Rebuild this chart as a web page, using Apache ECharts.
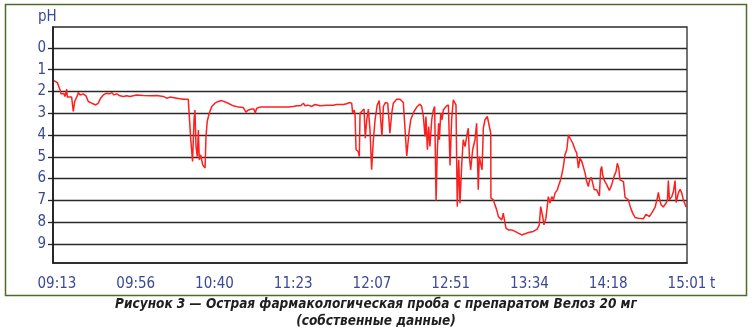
<!DOCTYPE html>
<html>
<head>
<meta charset="utf-8">
<script src="https://cdn.jsdelivr.net/npm/echarts@6/dist/echarts.min.js"></script>
<style>
html,body{margin:0;padding:0;background:#fff;}
#chart{width:752px;height:334px;}
</style>
</head>
<body>
<div id="chart"></div>
<script>
// time in minutes after 09:13
const times = [
-1.7,-0.6,0.2,0.7,1.7,2.2,3.2,3.9,4.4,5.4,5.7,6.8,8.1,9.0,9.8,10.5,11.2,11.8,12.7,13.6,14.5,16.0,17.3,19.2,21.5,22.8,24.1,25.6,27.5,28.9,30.2,31.5,33.0,34.8,36.6,38.5,40.3,44.0,47.7,51.4,55.1,58.7,60.6,62.4,66.1,69.8,72.5,73.1,73.5,73.9,74.9,75.7,76.2,76.8,77.5,78.1,78.6,79.4,80.5,81.8,82.3,83.0,84.1,85.5,87.3,89.1,91.0,93.7,97.4,100.2,102.9,103.9,104.4,105.7,107.6,108.8,109.5,110.3,112.1,115.8,119.5,123.2,126.5,127.2,127.8,130.5,132.4,133.3,134.6,136.1,137.0,138.8,140.7,142.5,145.3,149.0,152.6,154.5,155.4,158.2,160.0,161.5,162.8,163.3,164.1,164.6,165.2,166.4,167.0,167.4,168.3,169.6,170.3,171.1,172.0,172.9,173.8,174.7,175.7,176.9,178.0,178.8,179.5,180.3,181.4,182.7,183.9,184.9,185.8,187.6,189.5,190.4,191.3,193.2,194.4,195.4,197.2,199.0,200.5,201.4,202.3,203.3,203.8,204.6,205.3,206.0,207.0,207.9,208.6,209.4,210.1,210.8,211.2,212.0,212.7,213.4,214.9,216.2,217.1,218.0,218.9,220.4,221.1,221.9,222.6,223.6,224.4,225.4,226.3,227.2,227.8,228.5,229.6,230.9,231.8,232.7,233.3,234.0,234.8,235.5,236.4,237.7,238.3,238.8,239.6,239.7,241.0,241.9,242.9,243.8,244.7,245.7,246.5,247.5,248.0,249.3,251.2,253.0,254.8,256.7,258.5,260.4,263.1,265.3,266.4,267.2,268.3,269.0,270.1,271.4,272.3,273.3,274.2,275.1,276.4,276.9,277.9,278.8,279.7,280.6,281.6,282.5,283.4,284.9,286.2,287.1,288.0,288.9,289.9,290.7,291.7,292.6,293.5,294.0,295.0,295.7,296.3,296.8,298.1,299.0,299.6,300.3,300.9,301.4,302.2,303.7,305.1,306.4,307.7,308.8,309.5,310.3,311.0,312.9,313.8,315.6,316.9,318.0,319.3,321.1,323.9,324.8,325.4,326.1,327.2,328.5,330.4,331.6,332.2,332.7,333.7,334.9,336.4,337.2,337.7,338.3,339.6,340.5,341.4,342.0,343.2,344.2,345.1,346.0,347.5
];
const phValues = [
1.5,1.55,1.6,1.7,1.93,2.11,2.2,2.11,2.23,1.9,2.26,2.31,2.26,2.92,2.46,2.39,2.2,2.05,2.16,2.08,2.11,2.2,2.46,2.54,2.62,2.54,2.31,2.16,2.08,2.11,2.05,2.16,2.11,2.2,2.23,2.2,2.23,2.16,2.19,2.2,2.19,2.23,2.31,2.26,2.31,2.36,2.36,2.31,2.36,4.22,5.22,3.3,2.85,4.53,4.99,3.77,5.14,4.91,5.37,5.52,4.07,3.37,3.0,2.69,2.54,2.46,2.42,2.51,2.66,2.72,2.74,2.69,2.95,2.85,2.81,2.81,3.0,2.77,2.72,2.72,2.72,2.72,2.72,2.81,2.72,2.69,2.66,2.62,2.66,2.54,2.66,2.63,2.69,2.6,2.66,2.63,2.63,2.6,2.54,2.6,2.57,2.51,2.54,3.0,2.85,3.0,4.68,4.76,4.99,3.0,2.92,2.81,4.15,3.3,2.81,3.77,5.6,4.3,3.3,2.62,2.42,2.46,4.04,2.69,2.51,2.54,3.92,3.0,2.54,2.36,2.36,2.39,2.51,4.96,3.92,3.3,2.92,2.69,2.58,2.69,3.08,4.07,3.15,4.68,3.61,4.53,3.3,2.85,2.69,7.01,4.68,3.46,4.22,3.0,3.3,2.85,2.69,2.62,5.4,3.3,2.39,2.62,7.29,5.14,7.13,5.3,4.22,4.53,4.07,3.69,4.99,5.6,4.68,4.22,3.46,6.52,4.99,5.3,5.6,3.69,3.3,3.15,3.08,3.15,3.92,6.9,6.98,7.21,7.44,7.75,7.82,7.9,7.59,7.51,8.28,8.36,8.36,8.43,8.51,8.59,8.54,8.48,8.43,8.32,8.13,7.29,7.75,8.13,7.82,6.83,7.13,6.83,6.98,6.67,6.52,6.37,6.14,5.83,5.45,4.91,4.68,3.99,4.15,4.38,4.68,4.83,5.52,5.06,5.22,5.45,5.75,6.14,6.37,6.14,5.94,6.14,6.21,6.52,6.52,6.44,6.8,5.6,5.45,5.83,6.06,6.29,6.55,6.29,5.9,5.68,5.3,5.52,6.06,6.14,6.87,6.98,7.36,7.59,7.79,7.82,7.85,7.9,7.64,7.71,7.75,7.59,7.31,6.9,6.64,6.9,7.21,7.31,7.13,6.98,6.09,6.98,6.83,6.6,6.09,7.1,6.67,6.49,6.67,6.98,7.31
];
const xTickPositions = [0, 43.5, 87, 130.5, 174, 217.5, 261, 304.5, 348];
const xTickLabels = ['09:13', '09:56', '10:40', '11:23', '12:07', '12:51', '13:34', '14:18', '15:01'];
const yTicks = [0, 1, 2, 3, 4, 5, 6, 7, 8, 9];
const captionLines = ['Рисунок 3 — Острая фармакологическая проба с препаратом Велоз 20 мг', '(собственные данные)'];

const seriesData = times.map((t, i) => [t, phValues[i]]);
const narrow = '"Liberation Sans Narrow", "DejaVu Sans Condensed", "Liberation Sans", Arial, sans-serif';
const labelColor = '#3a4896';
const captionStyle = {
  fontFamily: narrow,
  fontSize: 13.5,
  fontWeight: 'bold',
  fontStyle: 'italic',
  color: '#1e1e1e'
};

const chart = echarts.init(document.getElementById('chart'), null, { renderer: 'canvas' });
chart.setOption({
  animation: false,
  backgroundColor: '#ffffff',
  title: captionLines.map((line, i) => ({
    text: line,
    left: 'center',
    top: 297 + i * 17,
    padding: 0,
    textStyle: captionStyle
  })),
  graphic: [
    { type: 'rect', z: -1, shape: { x: 5.5, y: 4.5, width: 741, height: 291 }, style: { fill: 'none', stroke: '#4f6b2a', lineWidth: 1.5 } },
    { type: 'text', left: 38, top: 10, style: { text: 'pH', font: '15px ' + narrow, fill: labelColor } },
    { type: 'text', left: 710, top: 277, style: { text: 't', font: '15px ' + narrow, fill: labelColor } }
  ],
  grid: {
    left: 53, top: 27, right: 65, bottom: 71,
    show: true, borderColor: '#2a2a2a', borderWidth: 1.3, backgroundColor: 'transparent'
  },
  xAxis: {
    type: 'value',
    min: -2.2,
    max: 348,
    axisLine: { show: true, onZero: false, lineStyle: { color: '#222', width: 1.5 } },
    axisTick: { show: false },
    splitLine: { show: false },
    axisLabel: {
      customValues: xTickPositions,
      formatter: (v) => xTickLabels[xTickPositions.indexOf(v)],
      color: labelColor,
      fontFamily: narrow,
      fontSize: 15,
      margin: 14
    }
  },
  yAxis: {
    type: 'value',
    inverse: true,
    min: -0.96,
    max: 9.88,
    axisLine: { show: true, onZero: false, lineStyle: { color: '#111', width: 1.5 } },
    axisTick: { show: true, customValues: yTicks, length: 5, lineStyle: { color: '#222', width: 1.3 } },
    splitLine: { show: true, lineStyle: { color: '#2a2a2a', width: 1.3 } },
    axisLabel: {
      customValues: yTicks,
      color: labelColor,
      fontFamily: narrow,
      fontSize: 15,
      margin: 7
    }
  },
  series: [{
    type: 'line',
    data: seriesData,
    showSymbol: false,
    symbol: 'none',
    lineStyle: { color: '#ff1f1f', width: 1.5 },
    clip: true
  }]
});
</script>
</body>
</html>
